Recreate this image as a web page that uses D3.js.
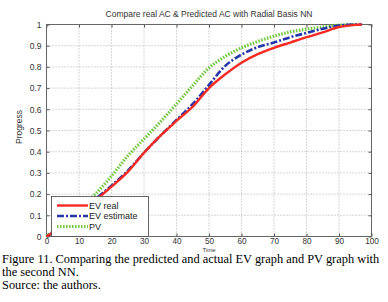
<!DOCTYPE html>
<html><head><meta charset="utf-8">
<script src="https://cdn.jsdelivr.net/npm/d3@7"></script>
<style>body{margin:0;background:#fff}svg{display:block}</style>
</head><body>
<svg id="c" width="388" height="302"></svg>
<script>
const time = [0,5,10,15,20,25,30,35,40,45,50,55,60,65,70,75,80,85,90,95,97];
const evReal = [0,0.05,0.11,0.17,0.235,0.305,0.395,0.475,0.545,0.612,0.7,0.765,0.82,0.86,0.89,0.915,0.94,0.963,0.988,0.998,1.0];
const evEstimate = [0,0.05,0.11,0.175,0.24,0.31,0.395,0.475,0.55,0.625,0.715,0.805,0.858,0.893,0.915,0.94,0.96,0.98,0.995,1.0,1.0];
const pv = [0,0.06,0.13,0.2,0.285,0.38,0.46,0.54,0.625,0.712,0.795,0.85,0.89,0.92,0.945,0.965,0.978,0.988,0.997,1.0,1.0];
const xTicks = [0,10,20,30,40,50,60,70,80,90,100];
const yTicks = [0,0.1,0.2,0.3,0.4,0.5,0.6,0.7,0.8,0.9,1];
const seriesNames = ["EV real","EV estimate","PV"];
const captionLines = ["Figure 11. Comparing the predicted and actual EV graph and PV graph with","the second NN.","Source: the authors."];

const svg = d3.select("#c");
const L=46.5, R=371.5, T=24.5, B=236.5;
const x = d3.scaleLinear().domain([0,100]).range([L,R]);
const y = d3.scaleLinear().domain([0,1]).range([B,T]);
const g = svg.append("g");
const SANS = "Liberation Sans, Arial, sans-serif";

// grid
g.selectAll(".gx").data(xTicks.slice(1,-1)).enter().append("line")
  .attr("x1",d=>x(d)).attr("x2",d=>x(d)).attr("y1",T).attr("y2",B)
  .attr("stroke","#999").attr("stroke-width",0.8).attr("stroke-dasharray","1,2");
g.selectAll(".gy").data(yTicks.slice(1,-1)).enter().append("line")
  .attr("y1",d=>y(d)).attr("y2",d=>y(d)).attr("x1",L).attr("x2",R)
  .attr("stroke","#999").attr("stroke-width",0.8).attr("stroke-dasharray","1,2");

// axes
const tickStyle = (fs) => sel => { sel.select(".domain").remove(); sel.selectAll("line").attr("stroke","#555"); sel.selectAll("text").attr("fill","#333").style("font-family",SANS).style("font-size",fs); };
g.append("g").attr("transform",`translate(0,${B})`).call(d3.axisBottom(x).tickValues(xTicks).tickSize(-3).tickPadding(2).tickFormat(d3.format("d"))).call(tickStyle("8.2px"));
g.append("g").attr("transform",`translate(${L},0)`).call(d3.axisLeft(y).tickValues(yTicks).tickSize(-3).tickPadding(5).tickFormat(d=>d===0||d===1?String(d):d3.format(".1f")(d))).call(tickStyle("8.5px"));
g.append("g").attr("transform",`translate(0,${T})`).call(d3.axisTop(x).tickValues(xTicks).tickSize(-3).tickFormat("")).call(tickStyle("8px"));
g.append("g").attr("transform",`translate(${R},0)`).call(d3.axisRight(y).tickValues(yTicks).tickSize(-3).tickFormat("")).call(tickStyle("8px"));
g.append("rect").attr("x",L).attr("y",T).attr("width",R-L).attr("height",B-T).attr("fill","none").attr("stroke","#666").attr("stroke-width",1);

// lines
const line = vals => d3.line().x((d,i)=>x(time[i])).y((d,i)=>y(vals[i])).curve(d3.curveCatmullRom.alpha(0.5))(vals);
const styles = [
  {vals:pv, color:"#74c843", w:3.2, dash:"1.6,1.4"},
  {vals:evEstimate, color:"#2636a8", w:2.6, dash:"7,2,2,2"},
  {vals:evReal, color:"#f52a22", w:2.4, dash:null}
];
styles.forEach(s=>{
  g.append("path").attr("d",line(s.vals)).attr("fill","none").attr("stroke",s.color)
   .attr("stroke-width",s.w).attr("stroke-dasharray",s.dash);
});

// legend
const lg = g.append("g");
lg.append("rect").attr("x",51.5).attr("y",196.5).attr("width",97).attr("height",40).attr("fill","#fff").attr("stroke","#444").attr("stroke-width",0.8);
const legendStyles = [styles[2],styles[1],styles[0]];
seriesNames.forEach((n,i)=>{
  const yy = 205.5 + i*10.5;
  lg.append("line").attr("x1",57).attr("x2",88).attr("y1",yy).attr("y2",yy)
    .attr("stroke",legendStyles[i].color).attr("stroke-width",legendStyles[i].w).attr("stroke-dasharray",legendStyles[i].dash);
  lg.append("text").attr("x",89).attr("y",yy+3).text(n).attr("fill","#222")
    .style("font-family",SANS).style("font-size","9px");
});

// title & labels
svg.append("text").attr("x",(L+R)/2).attr("y",17).attr("text-anchor","middle").text("Compare real AC & Predicted AC with Radial Basis NN")
  .attr("fill","#333").style("font-family",SANS).style("font-size","8.5px");
svg.append("text").attr("transform","translate(22,127) rotate(-90)").attr("text-anchor","middle").text("Progress")
  .attr("fill","#333").style("font-family",SANS).style("font-size","8.5px");
svg.append("text").attr("x",(L+R)/2).attr("y",251.5).attr("text-anchor","middle").text("Time")
  .attr("fill","#333").style("font-family",SANS).style("font-size","6px");

// caption
captionLines.forEach((t,i)=>{
  svg.append("text").attr("x",2).attr("y",262.5+i*13.3).text(t).attr("fill","#000")
    .style("font-family","Liberation Serif, Times New Roman, serif").style("font-size","12.4px");
});
</script>
</body></html>
